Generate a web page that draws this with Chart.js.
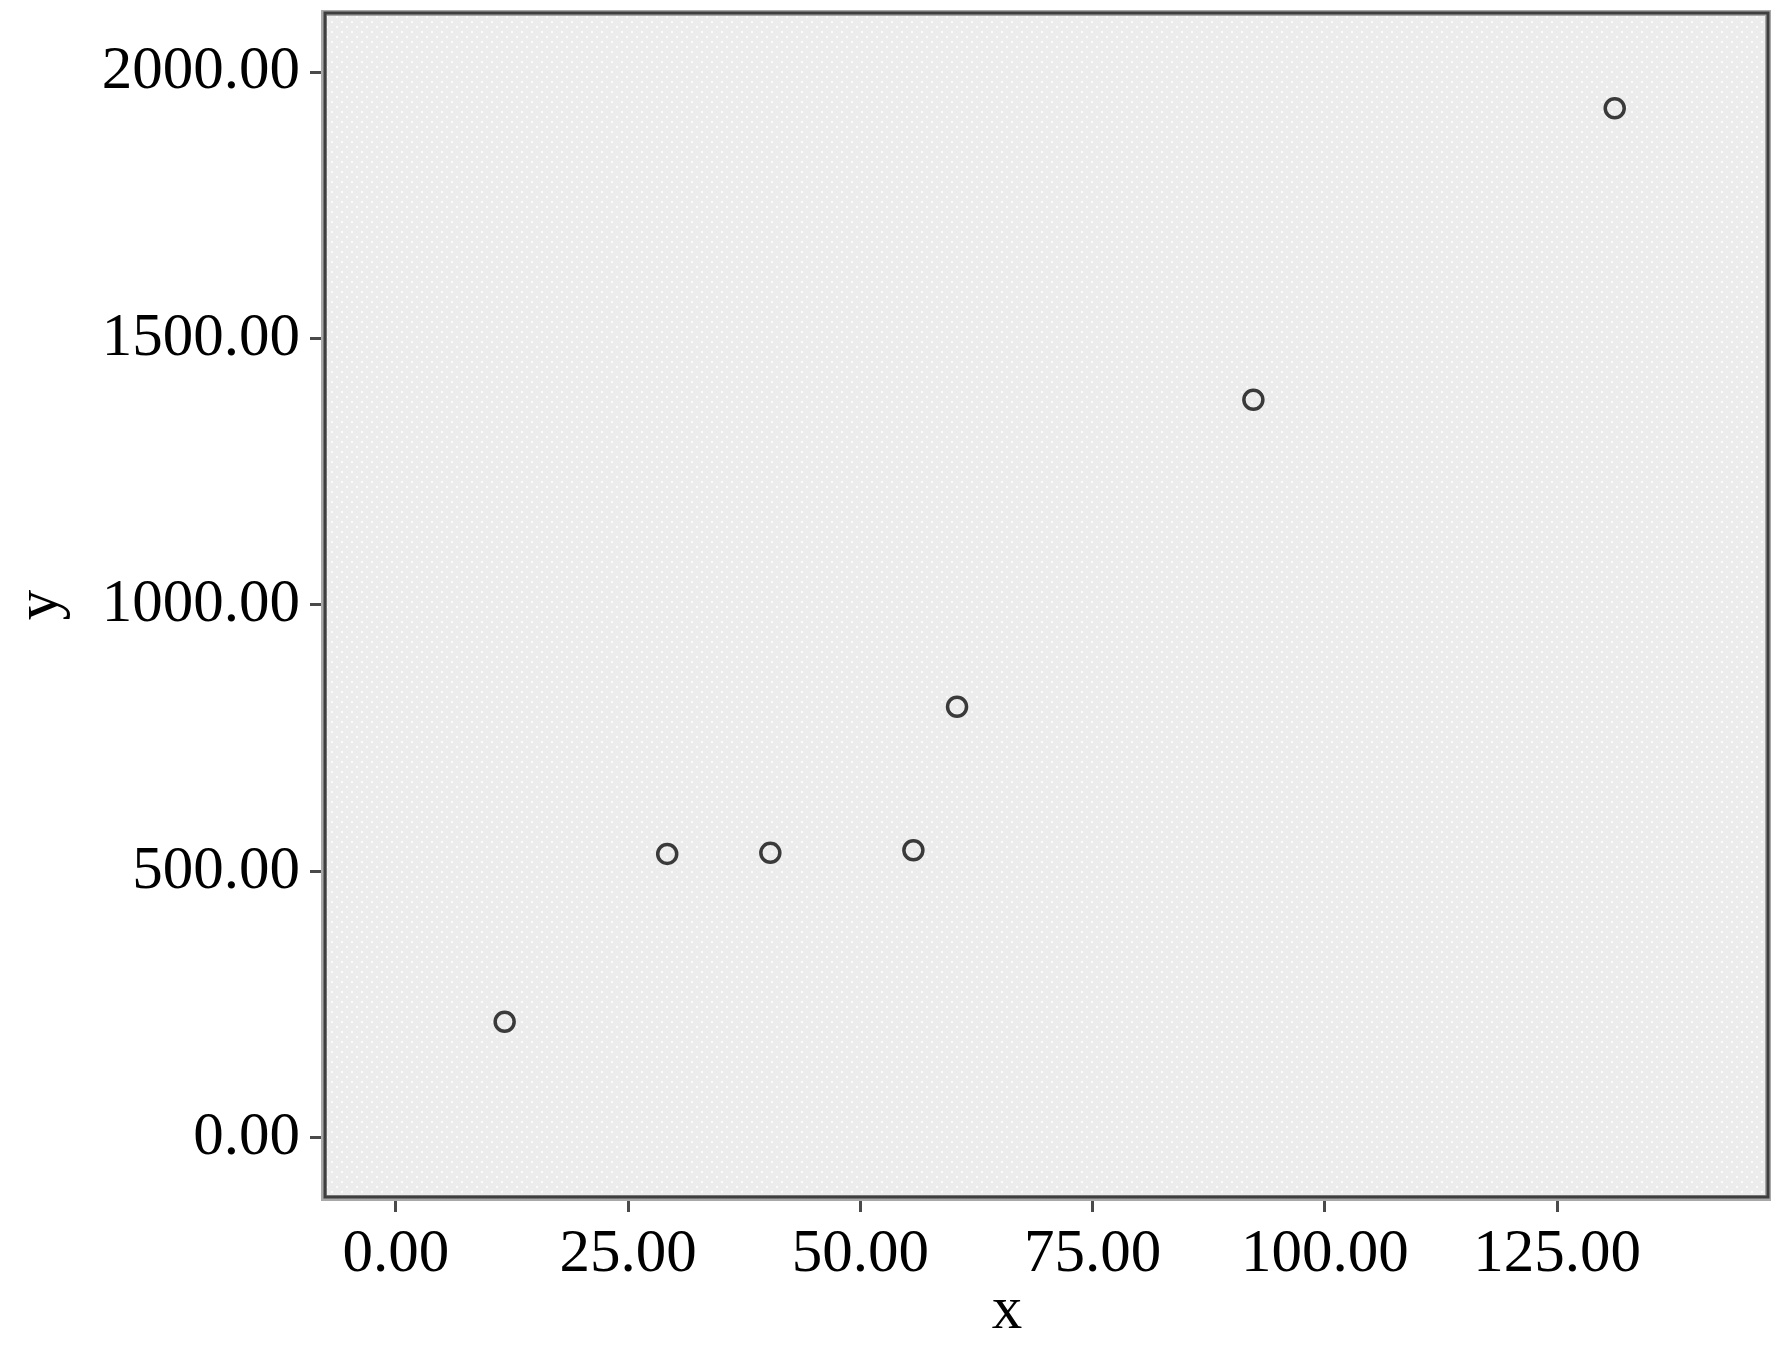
<!DOCTYPE html>
<html>
<head>
<meta charset="utf-8">
<script src="https://cdn.jsdelivr.net/npm/chart.js@4/dist/chart.umd.min.js"></script>
<style>
html,body{margin:0;padding:0;background:#fff;}
canvas{display:block;}
</style>
</head>
<body>
<canvas id="c" width="1788" height="1359"></canvas>
<script>
const xValues = [11.7, 29.2, 40.3, 55.7, 60.4, 92.3, 131.2];
const yValues = [218, 533, 535, 540, 809, 1385, 1932];
const xTicks = [0, 25, 50, 75, 100, 125];
const yTicks = [0, 500, 1000, 1500, 2000];
const xTitle = 'x';
const yTitle = 'y';

const FONT = "'Liberation Serif', 'Times New Roman', serif";

function makePattern(ctx) {
  const p = document.createElement('canvas');
  p.width = 10; p.height = 10;
  const g = p.getContext('2d');
  g.fillStyle = '#ececec';
  g.fillRect(0, 0, 10, 10);
  g.fillStyle = '#fbfbfb';
  g.fillRect(1, 1, 2, 2);
  g.fillRect(6, 6, 2, 2);
  return ctx.createPattern(p, 'repeat');
}

const framePlugin = {
  id: 'frame',
  beforeDatasetsDraw(chart) {
    const {ctx, chartArea: a} = chart;
    ctx.save();
    ctx.fillStyle = makePattern(ctx);
    ctx.fillRect(a.left, a.top, a.right - a.left, a.bottom - a.top);
    ctx.restore();
  },
  afterDraw(chart) {
    const {ctx, chartArea: a} = chart;
    ctx.save();
    ctx.strokeStyle = '#a8a8a8';
    ctx.lineWidth = 6;
    ctx.strokeRect(a.left - 1, a.top, a.right - a.left + 1, a.bottom - a.top + 1);
    ctx.strokeStyle = '#3e3e3e';
    ctx.lineWidth = 3;
    ctx.strokeRect(a.left, a.top, a.right - a.left, a.bottom - a.top);
    // x-axis title
    ctx.fillStyle = '#000';
    ctx.font = "61px " + FONT;
    ctx.textAlign = 'center';
    ctx.textBaseline = 'alphabetic';
    ctx.fillText(xTitle, a.left + 682, chart.height - 31);
    ctx.restore();
  }
};

new Chart(document.getElementById('c'), {
  type: 'scatter',
  data: {
    datasets: [{
      data: xValues.map((x, i) => ({x: x, y: yValues[i]})),
      pointStyle: 'circle',
      pointRadius: 9.5,
      pointHoverRadius: 9.5,
      borderWidth: 3.5,
      pointBorderWidth: 3.5,
      borderColor: '#3a3a3a',
      backgroundColor: 'rgba(0,0,0,0)'
    }]
  },
  options: {
    responsive: false,
    animation: false,
    devicePixelRatio: 1,
    layout: {padding: {top: 13, right: 20, left: 0, bottom: 0}},
    plugins: {legend: {display: false}, tooltip: {enabled: false}},
    scales: {
      x: {
        type: 'linear',
        min: -7.64,
        max: 147.7,
        afterBuildTicks: s => { s.ticks = xTicks.map(v => ({value: v})); },
        afterFit: s => { s.height = 162; s.paddingLeft = 0; s.paddingRight = 0; },
        border: {display: false},
        grid: {drawOnChartArea: false, drawTicks: true, tickLength: 15, tickWidth: 3, tickColor: '#4a4a4a'},
        ticks: {
          font: {family: FONT, size: 61},
          color: '#000',
          padding: 6,
          maxRotation: 0,
          callback: v => Number(v).toFixed(2)
        },
        title: {display: false}
      },
      y: {
        type: 'linear',
        min: -110.7,
        max: 2110.7,
        afterBuildTicks: s => { s.ticks = yTicks.map(v => ({value: v})); },
        afterFit: s => { s.width = 325; s.paddingTop = 0; s.paddingBottom = 0; },
        border: {display: false},
        grid: {drawOnChartArea: false, drawTicks: true, tickLength: 15, tickWidth: 3, tickColor: '#4a4a4a'},
        ticks: {
          font: {family: FONT, size: 61},
          color: '#000',
          padding: 10,
          callback: v => Number(v).toFixed(2)
        },
        title: {
          display: true,
          text: yTitle,
          font: {family: FONT, size: 61},
          color: '#000',
          padding: {top: 4, bottom: 0}
        }
      }
    }
  },
  plugins: [framePlugin]
});
</script>
</body>
</html>
